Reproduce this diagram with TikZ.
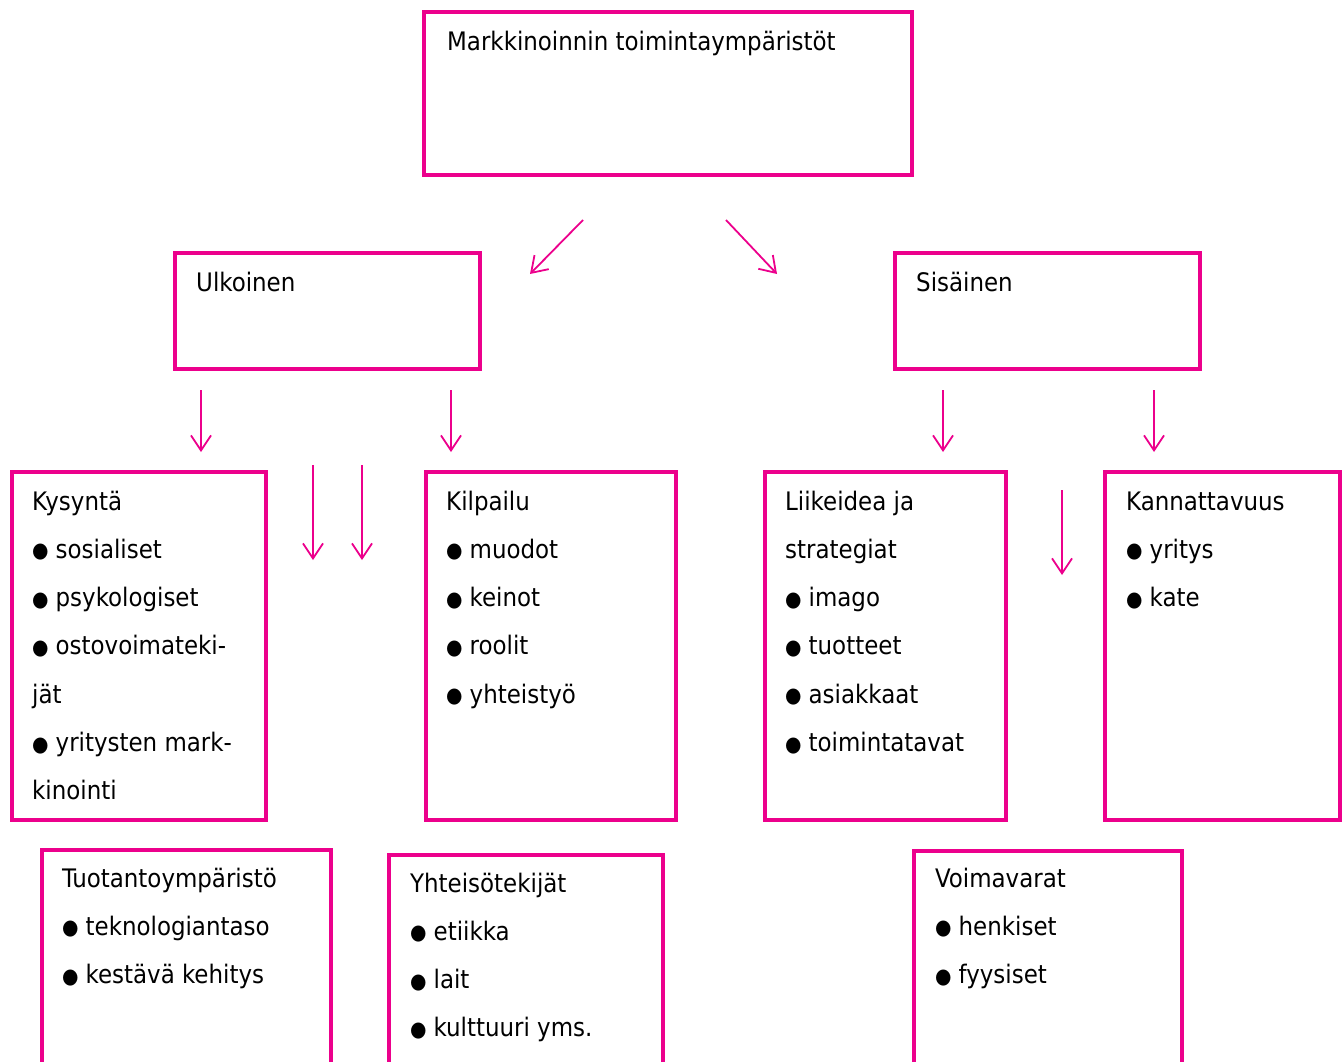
\documentclass[tikz,border=0pt]{standalone}
\usepackage{fontspec}
\setmainfont{DejaVu Sans Condensed}
\usetikzlibrary{arrows.meta}
\definecolor{mag}{HTML}{EC008C}
\newcommand{\bul}{\raisebox{0.5pt}{\fontsize{21}{21}\selectfont ●}\hspace{7pt}}
\newcommand{\lines}[1]{\begin{tabular}[t]{@{}l@{}}#1\end{tabular}}
\tikzset{
  box/.style={draw=mag, line width=4pt, rectangle, inner sep=0pt, outer sep=0pt, anchor=north west},
  txt/.style={anchor=base west, inner sep=0pt, font=\fontsize{25.5}{48.3}\selectfont},
  arr/.style={draw=mag, line width=1.8pt, -{Straight Barb[length=15pt,width=20pt]}}
}
\begin{document}
\begin{tikzpicture}[x=1pt,y=-1pt]
\useasboundingbox (0,0) rectangle (1344,1061);
\clip (0,0) rectangle (1344,1061);
% boxes
\node[box, minimum width=488pt, minimum height=163pt] (top) at (424,12) {};
\node[box, minimum width=305pt, minimum height=116pt] (ulk) at (175,253) {};
\node[box, minimum width=305pt, minimum height=116pt] (sis) at (895,253) {};
\node[box, minimum width=254pt, minimum height=348pt] (kys) at (12,472) {};
\node[box, minimum width=250pt, minimum height=348pt] (kil) at (426,472) {};
\node[box, minimum width=241pt, minimum height=348pt] (lii) at (765,472) {};
\node[box, minimum width=235pt, minimum height=348pt] (kan) at (1105,472) {};
\node[box, minimum width=289pt, minimum height=240pt] (tuo) at (42,850) {};
\node[box, minimum width=274pt, minimum height=240pt] (yht) at (389,855) {};
\node[box, minimum width=268pt, minimum height=240pt] (voi) at (914,851) {};
% texts
\node[txt] (ttop) at (447,50) {Markkinoinnin toimintaympäristöt};
\node[txt] (tulk) at (196,291) {Ulkoinen};
\node[txt] (tsis) at (916,291) {Sisäinen};
\node[txt] (tkys) at (32,510) {\lines{Kysyntä\\\bul sosialiset\\\bul psykologiset\\\bul ostovoimateki-\\jät\\\bul yritysten mark-\\kinointi}};
\node[txt] (tkil) at (446,510) {\lines{Kilpailu\\\bul muodot\\\bul keinot\\\bul roolit\\\bul yhteistyö}};
\node[txt] (tlii) at (785,510) {\lines{Liikeidea ja\\strategiat\\\bul imago\\\bul tuotteet\\\bul asiakkaat\\\bul toimintatavat}};
\node[txt] (tkan) at (1126,510) {\lines{Kannattavuus\\\bul yritys\\\bul kate}};
\node[txt] (ttuo) at (62,887) {\lines{Tuotantoympäristö\\\bul teknologiantaso\\\bul kestävä kehitys}};
\node[txt] (tyht) at (410,892) {\lines{Yhteisötekijät\\\bul etiikka\\\bul lait\\\bul kulttuuri yms.}};
\node[txt] (tvoi) at (935,887) {\lines{Voimavarat\\\bul henkiset\\\bul fyysiset}};
% arrows
\coordinate (a1s) at (583,220); \coordinate (a1e) at (530,274);
\coordinate (a2s) at (726,220); \coordinate (a2e) at (777,274);
\coordinate (d1s) at (201,390); \coordinate (d1e) at (201,452);
\coordinate (d2s) at (451,390); \coordinate (d2e) at (451,452);
\coordinate (d3s) at (943,390); \coordinate (d3e) at (943,452);
\coordinate (d4s) at (1154,390); \coordinate (d4e) at (1154,452);
\coordinate (d5s) at (313,465); \coordinate (d5e) at (313,560);
\coordinate (d6s) at (362,465); \coordinate (d6e) at (362,560);
\coordinate (d7s) at (1062,490); \coordinate (d7e) at (1062,575);
\foreach \a in {a1,a2,d1,d2,d3,d4,d5,d6,d7}{
  \draw[arr] (\a s) -- (\a e);
}
\end{tikzpicture}
\end{document}
